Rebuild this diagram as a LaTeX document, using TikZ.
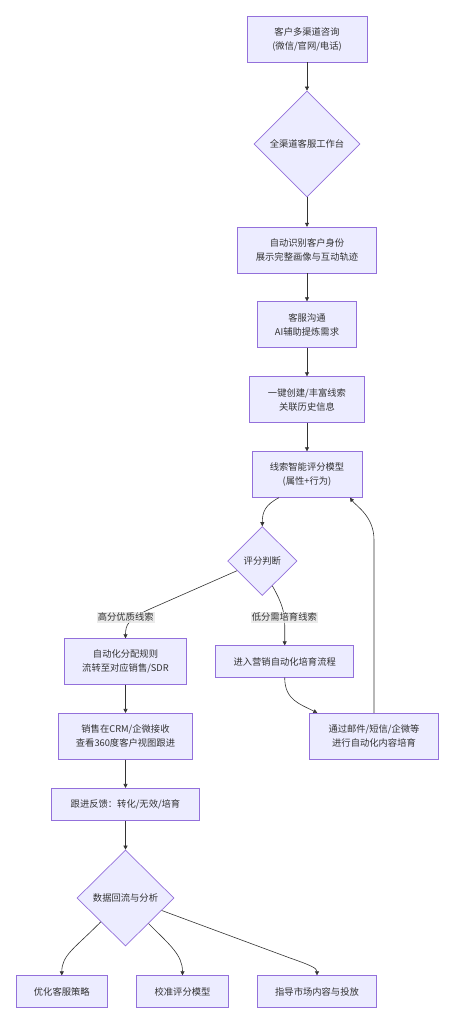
\documentclass[tikz,border=0pt]{standalone}
\usepackage{fontspec}
\setmainfont{Noto Sans CJK SC}
\usetikzlibrary{shapes.geometric,arrows.meta}
\definecolor{nodefill}{HTML}{ECECFF}
\definecolor{nodeline}{HTML}{9370DB}
\definecolor{edgeline}{HTML}{333333}
\definecolor{labelbg}{HTML}{E8E8E8}
\tikzset{
  boxnode/.style={draw=nodeline,fill=nodefill,line width=0.7pt,inner sep=0pt,align=center,text=edgeline,font=\fontsize{9.3}{14}\selectfont},
  dianode/.style={diamond,draw=nodeline,fill=nodefill,line width=0.7pt,inner sep=0pt,align=center,text=edgeline,font=\fontsize{9.3}{14}\selectfont},
  edgelabel/.style={fill=labelbg,fill opacity=0.85,text opacity=1,inner sep=1pt,text=edgeline,font=\fontsize{9.3}{11}\selectfont},
  flow/.style={draw=edgeline,line width=0.6pt,-{Triangle[length=4pt,width=4pt]}}
}
\begin{document}
\begin{tikzpicture}[x=1pt,y=-1pt]
\useasboundingbox (0,0) rectangle (455,1024);
\node[boxnode,minimum width=120pt,minimum height=46pt] (b1) at (307,39) {客户多渠道咨询\\(微信/官网/电话)};
\node[dianode,minimum width=106pt,minimum height=106pt] (d1) at (307,144) {全渠道客服工作台};
\node[boxnode,minimum width=138.4pt,minimum height=45.7pt] (b3) at (307,250) {自动识别客户身份\\展示完整画像与互动轨迹};
\node[boxnode,minimum width=99.4pt,minimum height=45.6pt] (b4) at (307,324.5) {客服沟通\\AI辅助提炼需求};
\node[boxnode,minimum width=115pt,minimum height=45.6pt] (b5) at (307,399.5) {一键创建/丰富线索\\关联历史信息};
\node[boxnode,minimum width=110pt,minimum height=45.6pt] (b6) at (307,474.5) {线索智能评分模型\\(属性+行为)};
\node[dianode,minimum width=69.4pt,minimum height=69pt] (d2) at (262.3,561) {评分判断};
\node[boxnode,minimum width=122pt,minimum height=45.6pt] (b7) at (125.5,661.5) {自动化分配规则\\流转至对应销售/SDR};
\node[boxnode,minimum width=138pt,minimum height=31.6pt] (b8) at (284.7,661.5) {进入营销自动化培育流程};
\node[boxnode,minimum width=134.4pt,minimum height=46pt] (b9) at (125.5,736.3) {销售在CRM/企微接收\\查看360度客户视图跟进};
\node[boxnode,minimum width=129.4pt,minimum height=46pt] (b10) at (374,736.3) {通过邮件/短信/企微等\\进行自动化内容培育};
\node[boxnode,minimum width=148pt,minimum height=32pt] (b11) at (125.5,804.3) {跟进反馈：转化/无效/培育};
\node[dianode,minimum width=97pt,minimum height=96pt] (d3) at (125.5,898) {数据回流与分析};
\node[boxnode,minimum width=91pt,minimum height=31.6pt] (b12) at (61.8,991.5) {优化客服策略};
\node[boxnode,minimum width=91.6pt,minimum height=31.6pt] (b13) at (182.5,991.5) {校准评分模型};
\node[boxnode,minimum width=119.4pt,minimum height=31.6pt] (b14) at (317,991.5) {指导市场内容与投放};

\coordinate (b6out) at ([xshift=-28pt]b6.south);
\coordinate (b6in) at ([xshift=43pt]b6.south);
\coordinate (b10top) at (b10.north);
\coordinate (b10in) at ([xshift=-56.7pt]b10.north);

\draw[flow] (b1.south) -- (d1.north);
\draw[flow] (d1.south) -- (b3.north);
\draw[flow] (b3.south) -- (b4.north);
\draw[flow] (b4.south) -- (b5.north);
\draw[flow] (b5.south) -- (b6.north);
\draw[flow] (b6out) .. controls (265,505) and (262.3,512) .. (d2.north);
\draw[flow] (d2.201) -- (150,609) .. controls (128,619) and (125.5,625) .. (b7.north);
\draw[flow] (d2.292) .. controls (282,603) and (284.7,612) .. (284.7,625) -- (b8.north);
\draw[flow] (b7.south) -- (b9.north);
\draw[flow] (b8.south) .. controls (284.7,700) and (300,704) .. (b10in);
\draw[flow] (b10top) -- (374,540) .. controls (374,516) and (356,506) .. (b6in);
\draw[flow] (b9.south) -- (b11.north);
\draw[flow] (b11.south) -- (d3.north);
\draw[flow] (d3.224) .. controls (75,948) and (61.8,955) .. (b12.north);
\draw[flow] (d3.312) .. controls (170,945) and (182.5,955) .. (b13.north);
\draw[flow] (d3.341) -- (290,958) .. controls (310,965) and (317,968) .. (b14.north);

\node[edgelabel] (l1) at (125.7,617.3) {高分优质线索};
\node[edgelabel] (l2) at (284.3,617.3) {低分需培育线索};
\end{tikzpicture}
\end{document}
